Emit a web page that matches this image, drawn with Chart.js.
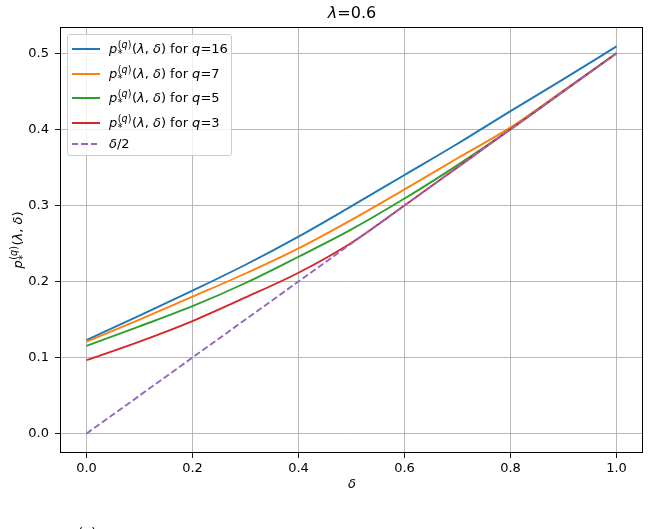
<!DOCTYPE html>
<html>
<head>
<meta charset="utf-8">
<script src="https://cdn.jsdelivr.net/npm/chart.js@4.4.1/dist/chart.umd.min.js"></script>
<style>
  html, body { margin:0; padding:0; background:#fff; }
  body { width:650px; height:529px; overflow:hidden; position:relative; font-family:"DejaVu Sans", sans-serif; color:#000; }
  #c { position:absolute; left:0; top:0; }
  .ov { position:absolute; white-space:nowrap; }
  .ss { display:inline-block; vertical-align:-0.45em; line-height:0.95; font-size:0.74em; margin-left:0.5px; margin-right:0.5px; text-align:left; }
  .ss span { display:block; }
  #legend { position:absolute; left:67px; top:34px; width:165px; height:122px; border:1px solid #cccccc; border-radius:3px; background:rgba(255,255,255,0.8); box-sizing:border-box; }
  .row { position:absolute; left:0; width:100%; height:20px; }
  .hdl { position:absolute; left:4px; width:28px; height:2px; top:9px; }
  .lbl { position:absolute; left:41px; top:0; height:20px; line-height:20px; font-size:13px; white-space:nowrap; }
</style>
</head>
<body>
<canvas id="c" width="650" height="529"></canvas>
<div class="ov" id="title" style="left:302px; top:3px; width:100px; text-align:center; font-size:16px;"><i>λ</i>=0.6</div>
<div class="ov" id="xlabel" style="left:332px; top:476px; width:40px; text-align:center; font-size:13px;"><i>δ</i></div>
<div class="ov" id="ylabel" style="left:-32px; top:230px; width:100px; height:20px; line-height:20px; text-align:center; font-size:13px; transform:rotate(-90deg); transform-origin:50% 50%;"><i>p</i><span class="ss"><span>(<i>q</i>)</span><span>*</span></span>(<i>λ</i>, <i>δ</i>)</div>
<div id="legend"></div>
<div class="ov" style="left:78px; top:525px; font-size:13px;">(<i>q</i>)</div>
<script>
// ---- data ----
const deltas   = [0.0, 0.1, 0.2, 0.3, 0.4, 0.5, 0.6, 0.7, 0.8, 0.9, 1.0];
const pQ16     = [0.123, 0.155, 0.188, 0.222, 0.259, 0.299, 0.340, 0.381, 0.424, 0.466, 0.509];
const pQ7      = [0.121, 0.150, 0.180, 0.2105, 0.2435, 0.281, 0.321, 0.362, 0.4025, 0.451, 0.500];
const pQ5      = [0.1155, 0.141, 0.1675, 0.198, 0.2325, 0.2685, 0.309, 0.353, 0.400, 0.450, 0.500];
const pQ3      = [0.0965, 0.121, 0.148, 0.179, 0.2115, 0.251, 0.300, 0.350, 0.400, 0.450, 0.500];
const halfDelta= [0.0, 0.05, 0.10, 0.15, 0.20, 0.25, 0.30, 0.35, 0.40, 0.45, 0.50];
const xTickValues = [0.0, 0.2, 0.4, 0.6, 0.8, 1.0];
const yTickValues = [0.0, 0.1, 0.2, 0.3, 0.4, 0.5];
const seriesQ = ['16', '7', '5', '3'];
const colors = ['#1f77b4', '#ff7f0e', '#2ca02c', '#d62728', '#9467bd'];

const toPts = arr => deltas.map((d, i) => ({ x: d, y: arr[i] }));
const seriesVals = [pQ16, pQ7, pQ5, pQ3];

const datasets = seriesVals.map((arr, k) => ({
  label: 'q=' + seriesQ[k],
  data: toPts(arr),
  borderColor: colors[k],
  borderWidth: 1.9,
  pointRadius: 0,
  fill: false,
  cubicInterpolationMode: 'monotone',
  order: 5 - k
}));
datasets.push({
  label: 'δ/2',
  data: toPts(halfDelta),
  borderColor: colors[4],
  borderWidth: 1.9,
  borderDash: [6.5, 3],
  pointRadius: 0,
  fill: false,
  order: 0
});

const frame = {
  id: 'frame',
  afterDatasetsDraw(chart) {
    const a = chart.chartArea, ctx = chart.ctx;
    ctx.save();
    ctx.strokeStyle = '#000';
    ctx.lineWidth = 1;
    ctx.strokeRect(Math.round(a.left) + 0.5, Math.round(a.top) + 0.5, Math.round(a.right - a.left) - 1, Math.round(a.bottom - a.top) - 1);
    ctx.restore();
  }
};

const tickFont = { family: 'DejaVu Sans', size: 13 };

new Chart(document.getElementById('c'), {
  type: 'line',
  data: { datasets },
  options: {
    responsive: false,
    animation: false,
    devicePixelRatio: 1,
    layout: { padding: { left: 0, right: 7, top: 27, bottom: 0 } },
    plugins: { legend: { display: false }, tooltip: { enabled: false }, title: { display: false } },
    scales: {
      x: {
        type: 'linear', min: -0.05, max: 1.05,
        afterBuildTicks: s => { s.ticks = xTickValues.map(v => ({ value: v })); },
        afterFit: s => { s.height = 76; },
        ticks: { callback: v => Number(v).toFixed(1), font: tickFont, color: '#000', padding: 3, maxRotation: 0, autoSkip: false },
        grid: { color: '#b0b0b0', lineWidth: 0.9, tickColor: '#000', tickLength: 5 },
        border: { display: false }
      },
      y: {
        type: 'linear', min: -0.02545, max: 0.5345,
        afterBuildTicks: s => { s.ticks = yTickValues.map(v => ({ value: v })); },
        afterFit: s => { s.width = 60; },
        ticks: { callback: v => Number(v).toFixed(1), font: tickFont, color: '#000', padding: 6, autoSkip: false },
        grid: { color: '#b0b0b0', lineWidth: 0.9, tickColor: '#000', tickLength: 5 },
        border: { display: false }
      }
    }
  },
  plugins: [frame]
});

// legend (HTML, mathtext-like)
const legend = document.getElementById('legend');
const rowTops = [4, 28.5, 53, 77.5, 98.5];
seriesQ.forEach((q, k) => {
  const r = document.createElement('div');
  r.className = 'row';
  r.style.top = rowTops[k] + 'px';
  r.innerHTML = '<div class="hdl" style="background:' + colors[k] + '"></div>' +
    '<div class="lbl"><i>p</i><span class="ss"><span>(<i>q</i>)</span><span>*</span></span>(<i>λ</i>, <i>δ</i>) for <i>q</i>=' + q + '</div>';
  legend.appendChild(r);
});
const r5 = document.createElement('div');
r5.className = 'row';
r5.style.top = rowTops[4] + 'px';
r5.innerHTML = '<div class="hdl" style="background:repeating-linear-gradient(90deg,' + colors[4] + ' 0 6.5px, transparent 6.5px 9.5px)"></div>' +
  '<div class="lbl"><i>δ</i>/2</div>';
legend.appendChild(r5);
</script>
</body>
</html>
